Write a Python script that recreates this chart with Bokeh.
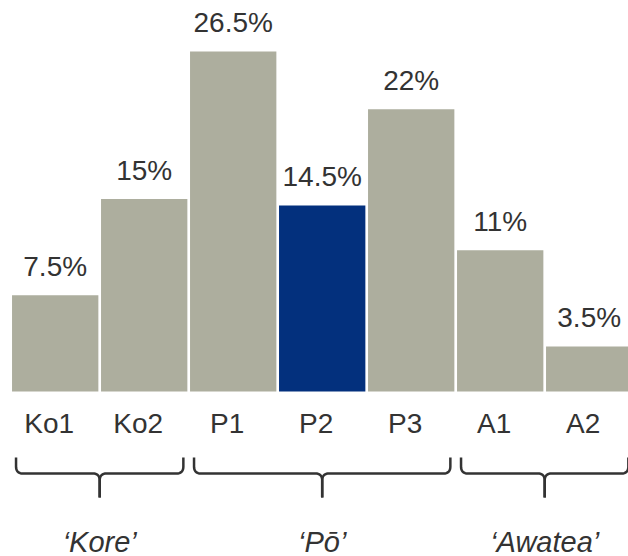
import numpy as np
from bokeh.plotting import figure
from bokeh.models import ColumnDataSource, Range1d
from bokeh.core.properties import value
from bokeh.embed import file_html
from bokeh.resources import INLINE

# ---- data -------------------------------------------------------------
categories = ["Ko1", "Ko2", "P1", "P2", "P3", "A1", "A2"]
shares = [7.5, 15, 26.5, 14.5, 22, 11, 3.5]
share_labels = ["7.5%", "15%", "26.5%", "14.5%", "22%", "11%", "3.5%"]
highlight = "P2"

group_names = ["\u2018Kore\u2019", "\u2018P\u014d\u2019", "\u2018Awatea\u2019"]
group_first = ["Ko1", "P1", "A1"]
group_last = ["Ko2", "P3", "A2"]

# ---- layout (pixels) ----------------------------------------------------
W, H = 628, 556
PX_X = 89.0           # pixels per category slot
PX_Y = 12.83          # pixels per percentage point
BASE_PX = 391         # baseline distance from the top edge
FIRST_CENTER_PX = 54.7
TEXT_LIFT = 11        # baseline correction for the text glyphs

GREY = "#ADAE9E"
BLUE = "#03307D"
INK = "#333333"
FONT = value("Liberation Sans")


def below(px):
    """Data y for a point `px` pixels below the baseline."""
    return -px / PX_Y


p = figure(
    width=W, height=H,
    x_range=Range1d(-FIRST_CENTER_PX / PX_X, (W - FIRST_CENTER_PX) / PX_X),
    y_range=Range1d(below(H - BASE_PX), BASE_PX / PX_Y),
    output_backend="svg", toolbar_location=None,
    min_border=0, outline_line_color=None,
    x_axis_type=None, y_axis_type=None,
    background_fill_color="white", border_fill_color="white",
)
p.xgrid.visible = False
p.ygrid.visible = False

xs = list(range(len(categories)))
colors = [BLUE if c == highlight else GREY for c in categories]
src = ColumnDataSource(dict(x=xs, top=shares, color=colors))

# bars
p.vbar(x="x", top="top", bottom=0, width=0.97, fill_color="color",
       line_color=None, source=src)

# value labels above the bars
val_src = ColumnDataSource(dict(
    x=xs, y=[v + (18 + TEXT_LIFT) / PX_Y for v in shares], label=share_labels))
p.text(x="x", y="y", text="label", source=val_src,
       text_font=FONT, text_font_size="28px", text_color=INK,
       text_align="center", text_baseline="alphabetic")

# category labels under the bars
cat_src = ColumnDataSource(dict(
    x=xs, y=[below(43 - TEXT_LIFT)] * len(xs), label=categories))
p.text(x="x", y="y", text="label", source=cat_src, x_offset=-6,
       text_font=FONT, text_font_size="28px", text_color=INK,
       text_align="center", text_baseline="alphabetic")


# ---- group braces -------------------------------------------------------
def quad(p0, c, p1, n=10):
    t = np.linspace(0, 1, n)[:, None]
    p0, c, p1 = map(np.asarray, (p0, c, p1))
    return (1 - t) ** 2 * p0 + 2 * (1 - t) * t * c + t ** 2 * p1


BR_TOP, BR_MID, BR_BOT, R = 66, 82, 106, 7   # pixels below baseline
PAD = 0.06

brace_xs, brace_ys, gx, gy = [], [], [], []
for first, last in zip(group_first, group_last):
    i0, i1 = categories.index(first), categories.index(last)
    xl_px = (i0 - 0.5 + PAD) * PX_X
    xr_px = (i1 + 0.5 - PAD) * PX_X
    xm_px = (i0 + i1) / 2 * PX_X
    for side in (-1, 1):
        xe = xl_px if side < 0 else xr_px
        d = 1 if side < 0 else -1        # direction from the end toward the stem
        pts = [np.array([[xe, BR_TOP]])]
        pts.append(quad((xe, BR_MID - R), (xe, BR_MID), (xe + d * R, BR_MID)))
        pts.append(quad((xm_px - d * R, BR_MID), (xm_px, BR_MID),
                        (xm_px, BR_MID + R)))
        pts.append(np.array([[xm_px, BR_BOT]]))
        arr = np.vstack(pts)
        brace_xs.append(list(arr[:, 0] / PX_X))
        brace_ys.append([below(v) for v in arr[:, 1]])
    gx.append(xm_px / PX_X)
    gy.append(below(161 - TEXT_LIFT))

p.multi_line(xs=brace_xs, ys=brace_ys, line_color=INK, line_width=2.5,
             line_join="round", line_cap="butt")

grp_src = ColumnDataSource(dict(x=gx, y=gy, label=group_names))
p.text(x="x", y="y", text="label", source=grp_src,
       text_font=FONT, text_font_size="29px", text_font_style="italic",
       text_color=INK, text_align="center", text_baseline="alphabetic")

open("out.html", "w").write(file_html(p, INLINE))
